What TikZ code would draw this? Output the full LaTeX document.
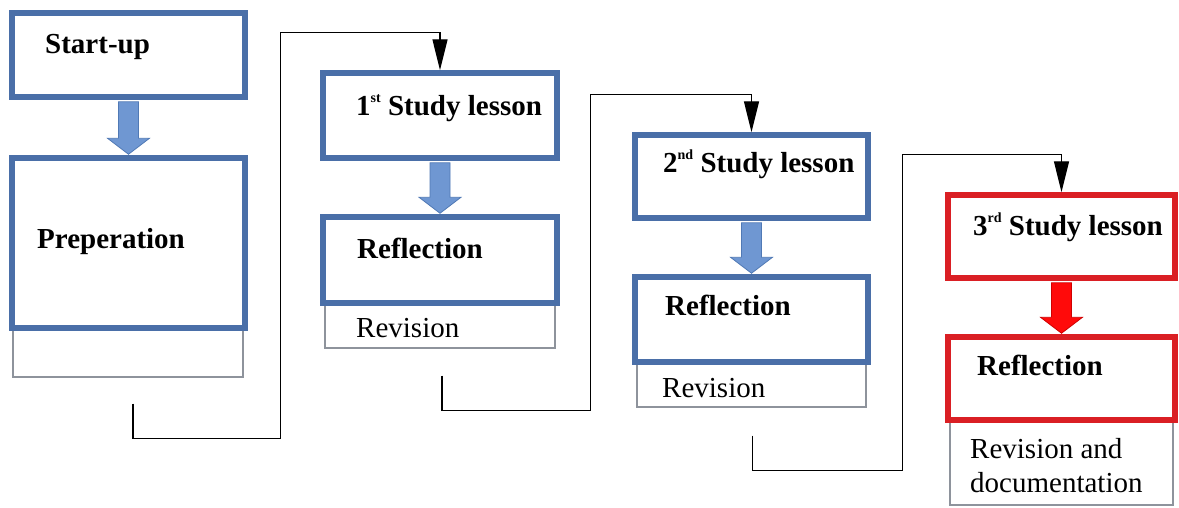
\documentclass[tikz,border=0pt]{standalone}
\usepackage{fontspec}
\setmainfont{Liberation Serif}
\usetikzlibrary{arrows.meta,calc}

\definecolor{stageblue}{HTML}{4A6FA8}
\definecolor{arrowblue}{HTML}{6F97D2}
\definecolor{arrowedge}{HTML}{5079B5}
\definecolor{stagered}{HTML}{DA1F24}
\definecolor{arrowred}{HTML}{FF0A0A}
\definecolor{arrowrededge}{HTML}{D00000}
\definecolor{notegray}{HTML}{8E939C}

% small raised ordinal suffix
\newcommand\ordsuf[1]{\raisebox{0.42em}{\fontsize{14}{14}\selectfont #1}}

% wide block arrow hanging between two stacked boxes
\newcommand\blockarrow[4]{%
  \path[fill=#3,draw=#4,line width=0.8pt]
    let \p1=(#1.south), \p2=(#2.north) in
    (\x1-10pt,\y1-2pt) -- (\x1+10pt,\y1-2pt) -- (\x1+10pt,\y2+17pt)
    -- (\x1+21pt,\y2+17pt) -- (\x1,\y2+1pt) -- (\x1-21pt,\y2+17pt)
    -- (\x1-10pt,\y2+17pt) -- cycle;}

\begin{document}
\begin{tikzpicture}[x=1pt,y=-1pt,
  stagebox/.style={draw=stageblue,line width=5.5pt,fill=white,rectangle,inner sep=0pt},
  redbox/.style={stagebox,draw=stagered},
  notebox/.style={draw=notegray,line width=1.3pt,fill=white,rectangle,inner sep=0pt},
  conn/.style={draw=black,line width=1.3pt,-{Triangle[length=31pt,width=15pt]}},
  head/.style={anchor=base west,inner sep=0pt,font=\bfseries\fontsize{29}{33}\selectfont},
  note/.style={anchor=base west,inner sep=0pt,font=\fontsize{29}{33}\selectfont}]

\useasboundingbox[fill=white] (0,0) rectangle (1179,507);

% ---- column 1: start-up and preparation
\node[notebox,minimum width=230pt,minimum height=49pt] (v0) at (128,352.5) {};
\node[stagebox,minimum width=233pt,minimum height=84pt] (start) at (128.5,55) {};
\node[stagebox,minimum width=233pt,minimum height=170pt] (prep) at (128.5,243) {};
\node[head] (tstart) at (45,53) {Start-up};
\node[head] (tprep) at (37,248) {Preperation};

% ---- column 2: first study lesson
\node[notebox,minimum width=230pt,minimum height=45pt] (v1) at (440,325.5) {};
\node[stagebox,minimum width=234pt,minimum height=85pt] (s1) at (440,115.5) {};
\node[stagebox,minimum width=234pt,minimum height=86pt] (r1) at (440,260) {};
\node[head] (ts1) at (356,115) {1\ordsuf{st} Study lesson};
\node[head] (tr1) at (357,258) {Reflection};
\node[note] (tv1) at (356,337) {Revision};

% ---- column 3: second study lesson
\node[notebox,minimum width=229pt,minimum height=45pt] (v2) at (751.5,384.5) {};
\node[stagebox,minimum width=233pt,minimum height=83pt] (s2) at (751.5,176.5) {};
\node[stagebox,minimum width=233pt,minimum height=85pt] (r2) at (751.5,319.5) {};
\node[head] (ts2) at (663,172) {2\ordsuf{nd} Study lesson};
\node[head] (tr2) at (665,315) {Reflection};
\node[note] (tv2) at (662,397) {Revision};

% ---- column 4: third study lesson
\node[notebox,minimum width=223pt,minimum height=85pt] (v3) at (1061.5,462.5) {};
\node[redbox,minimum width=227pt,minimum height=83pt] (s3) at (1061.5,236.5) {};
\node[redbox,minimum width=227pt,minimum height=83pt] (r3) at (1061.5,378.5) {};
\node[head] (ts3) at (973,235) {3\ordsuf{rd} Study lesson};
\node[head] (tr3) at (977,375) {Reflection};
\node[note] (tv3a) at (970,458) {Revision and};
\node[note] (tv3b) at (970,492) {documentation};

% ---- block arrows inside each column
\blockarrow{start}{prep}{arrowblue}{arrowedge}
\blockarrow{s1}{r1}{arrowblue}{arrowedge}
\blockarrow{s2}{r2}{arrowblue}{arrowedge}
\blockarrow{s3}{r3}{arrowred}{arrowrededge}

% ---- stepped connectors from one column to the next
\coordinate (c1) at ($(v0.south)+(5,26)$);
\coordinate (c1a) at ($(c1)+(0,35)$);
\coordinate (c1b) at ($(s1.north west)+(-40,-38)$);
\draw[conn] (c1) -- (c1a) -| (c1b) -| (s1.north);

\coordinate (c2) at ($(v1.south)+(2,27)$);
\coordinate (c2a) at ($(c2)+(0,35)$);
\coordinate (c2b) at ($(s2.north west)+(-42,-38)$);
\draw[conn] (c2) -- (c2a) -| (c2b) -| (s2.north);

\coordinate (c3) at ($(v2.south)+(1,28)$);
\coordinate (c3a) at ($(c3)+(0,35)$);
\coordinate (c3b) at ($(s3.north west)+(-43,-38)$);
\draw[conn] (c3) -- (c3a) -| (c3b) -| (s3.north);
\end{tikzpicture}
\end{document}
